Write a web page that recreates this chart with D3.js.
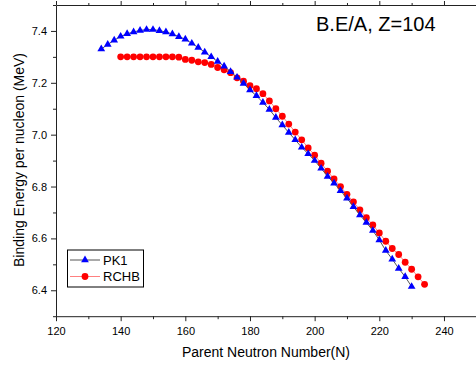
<!DOCTYPE html>
<html>
<head>
<meta charset="utf-8">
<script src="https://cdn.jsdelivr.net/npm/d3@7"></script>
<style>
  body { margin: 0; background: #fff; }
  svg { display: block; font-family: Arial, "Liberation Sans", sans-serif; }
</style>
</head>
<body>
<div id="chart"></div>
<script>
// Neutron numbers and binding energy per nucleon (MeV) for each model
const pk1N = [134, 136, 138, 140, 142, 144, 146, 148, 150, 152, 154, 156, 158, 160, 162, 164, 166, 168,
  170, 172, 174, 176, 178, 180, 182, 184, 186, 188, 190, 192, 194, 196, 198, 200, 202, 204, 206, 208,
  210, 212, 214, 216, 218, 220, 222, 224, 226, 228, 230];
const pk1BE = [7.330, 7.348, 7.364, 7.379, 7.389, 7.396, 7.402, 7.405, 7.405, 7.401, 7.396, 7.388, 7.378,
  7.368, 7.352, 7.336, 7.318, 7.300, 7.282, 7.264, 7.243, 7.221, 7.197, 7.172, 7.150, 7.124, 7.097,
  7.066, 7.037, 7.008, 6.980, 6.951, 6.926, 6.900, 6.870, 6.839, 6.813, 6.784, 6.755, 6.722, 6.690,
  6.661, 6.630, 6.594, 6.553, 6.520, 6.484, 6.452, 6.414];

const rchbN = [140, 142, 144, 146, 148, 150, 152, 154, 156, 158, 160, 162, 164, 166, 168, 170, 172, 174,
  176, 178, 180, 182, 184, 186, 188, 190, 192, 194, 196, 198, 200, 202, 204, 206, 208, 210, 212, 214,
  216, 218, 220, 222, 224, 226, 228, 230, 232, 234];
const rchbBE = [7.300, 7.300, 7.300, 7.300, 7.300, 7.300, 7.300, 7.300, 7.300, 7.299, 7.290, 7.287, 7.281,
  7.278, 7.271, 7.259, 7.250, 7.239, 7.219, 7.206, 7.189, 7.177, 7.158, 7.130, 7.100, 7.071, 7.041,
  7.010, 6.980, 6.949, 6.921, 6.890, 6.859, 6.829, 6.800, 6.770, 6.741, 6.710, 6.680, 6.652, 6.621,
  6.589, 6.561, 6.538, 6.508, 6.481, 6.452, 6.423];

const xTicks = [120, 140, 160, 180, 200, 220, 240];
const yTicks = [6.4, 6.6, 6.8, 7.0, 7.2, 7.4];

const width = 476, height = 366;
const margin = { top: 5, left: 56, bottom: 316 };

const svg = d3.select("#chart").append("svg")
  .attr("width", width)
  .attr("height", height);

// Scales (the right edge of the frame falls outside the window)
var x = d3.scaleLinear().domain([120, 250]).range([margin.left, 476.3]);
var y = d3.scaleLinear().domain([6.3, 7.5]).range([316.2, margin.top]);

const minorX = d3.range(130, 250, 20);
const minorY = [6.3, 6.5, 6.7, 6.9, 7.1, 7.3, 7.5];

// Bottom axis
var xAxis = svg.append("g")
  .attr("transform", "translate(0," + y(6.3) + ")")
  .call(d3.axisBottom(x).tickValues(xTicks).tickSize(5).tickSizeOuter(0).tickFormat(d3.format("d")));
xAxis.selectAll("text").attr("font-size", 11).attr("dy", "0.95em");
svg.append("g")
  .attr("transform", "translate(0," + y(6.3) + ")")
  .call(d3.axisBottom(x).tickValues(minorX).tickSize(3).tickSizeOuter(0).tickFormat(""))
  .select(".domain").remove();

// Top axis, ticks only
var topAxis = svg.append("g")
  .attr("transform", "translate(0," + y(7.5) + ")")
  .call(d3.axisTop(x).tickValues(xTicks).tickSize(4).tickSizeOuter(0).tickFormat(""));
svg.append("g")
  .attr("transform", "translate(0," + y(7.5) + ")")
  .call(d3.axisTop(x).tickValues(minorX).tickSize(2).tickSizeOuter(0).tickFormat(""))
  .select(".domain").remove();

// Left axis
var yAxis = svg.append("g")
  .attr("transform", "translate(" + x(120) + ",0)")
  .call(d3.axisLeft(y).tickValues(yTicks).tickSize(5).tickSizeOuter(0).tickFormat(d3.format(".1f")));
yAxis.selectAll("text").attr("font-size", 11).attr("x", -9);
svg.append("g")
  .attr("transform", "translate(" + x(120) + ",0)")
  .call(d3.axisLeft(y).tickValues(minorY).tickSize(3).tickSizeOuter(0).tickFormat(""))
  .select(".domain").remove();

svg.selectAll(".domain").attr("stroke", "#222");
svg.selectAll(".tick line").attr("stroke", "#222");
svg.selectAll(".tick text").attr("fill", "#000");

// Axis labels
svg.append("text")
  .attr("x", 266)
  .attr("y", 357)
  .attr("text-anchor", "middle")
  .attr("font-size", 14)
  .text("Parent Neutron Number(N)");

svg.append("text")
  .attr("transform", "translate(24,160) rotate(-90)")
  .attr("text-anchor", "middle")
  .attr("font-size", 14)
  .text("Binding Energy per nucleon (MeV)");

// Title inside the plot
svg.append("text")
  .attr("x", 316)
  .attr("y", 31)
  .attr("font-size", 20)
  .text("B.E/A, Z=104");

const pk1 = pk1N.map((n, i) => ({ n: n, be: pk1BE[i] }));
const rchb = rchbN.map((n, i) => ({ n: n, be: rchbBE[i] }));

var line = d3.line().x(d => x(d.n)).y(d => y(d.be));
var tri = d3.symbol().type(d3.symbolTriangle).size(26);

// RCHB series
svg.append("path")
  .datum(rchb)
  .attr("d", line)
  .attr("fill", "none")
  .attr("stroke", "#ff8080")
  .attr("stroke-width", 1);

svg.append("g").selectAll("circle")
  .data(rchb)
  .enter()
  .append("circle")
  .attr("cx", d => x(d.n))
  .attr("cy", d => y(d.be))
  .attr("r", 3.4)
  .attr("fill", "#ff0000");

// PK1 series
svg.append("path")
  .datum(pk1)
  .attr("d", line)
  .attr("fill", "none")
  .attr("stroke", "#555")
  .attr("stroke-width", 1);

svg.append("g").selectAll("path")
  .data(pk1)
  .enter()
  .append("path")
  .attr("d", tri)
  .attr("transform", d => "translate(" + x(d.n) + "," + y(d.be) + ")")
  .attr("fill", "#0000ff");

// Legend
var legend = svg.append("g");
legend.append("rect")
  .attr("x", 67.5).attr("y", 250)
  .attr("width", 76).attr("height", 37)
  .attr("fill", "#fff")
  .attr("stroke", "#000")
  .attr("stroke-width", 1);

const legendItems = [
  { name: "PK1", line: "#555", color: "#0000ff", shape: "tri" },
  { name: "RCHB", line: "#ff8080", color: "#ff0000", shape: "circle" }
];
legendItems.forEach((item, i) => {
  var ly = 260 + i * 16.5;
  legend.append("line")
    .attr("x1", 70).attr("x2", 100)
    .attr("y1", ly).attr("y2", ly)
    .attr("stroke", item.line);
  if (item.shape === "tri") {
    legend.append("path")
      .attr("d", tri)
      .attr("transform", "translate(85," + ly + ")")
      .attr("fill", item.color);
  } else {
    legend.append("circle")
      .attr("cx", 85).attr("cy", ly).attr("r", 3.4)
      .attr("fill", item.color);
  }
  legend.append("text")
    .attr("x", 103)
    .attr("y", ly + 4.5)
    .attr("font-size", 13)
    .text(item.name);
});
</script>
</body>
</html>
